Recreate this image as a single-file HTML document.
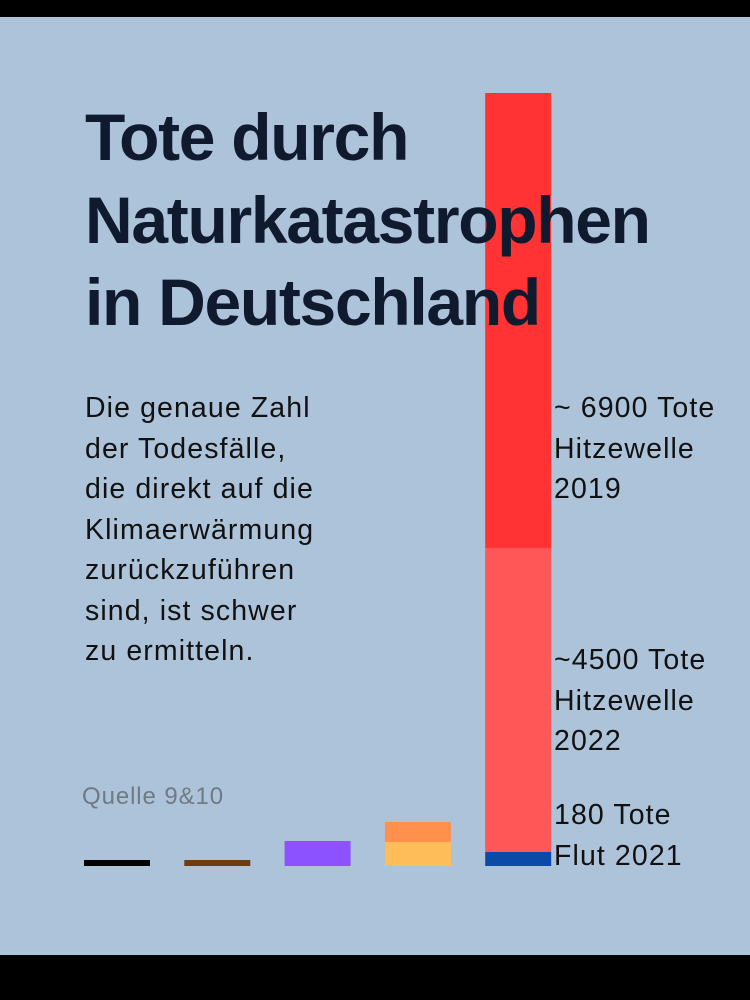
<!DOCTYPE html>
<html><head><meta charset="utf-8"><style>
body{margin:0;width:750px;height:1000px;background:#adc3d9;position:relative;overflow:hidden;font-family:"Liberation Sans",sans-serif}
.blk{position:absolute;left:0;width:750px;background:#000}
#title{position:absolute;left:85px;top:96px;font-size:66px;font-weight:bold;color:#0f1a2e;line-height:82.5px;letter-spacing:-1.3px;z-index:2;margin:0;white-space:nowrap}
#desc{position:absolute;left:85px;top:388px;font-size:28.5px;line-height:40.5px;letter-spacing:1.1px;color:#111;white-space:nowrap}
.lbl{position:absolute;left:554px;font-size:28.5px;line-height:40.5px;letter-spacing:1.1px;color:#111;white-space:nowrap}
#src{position:absolute;left:82px;top:783px;font-size:24px;letter-spacing:0.9px;color:#6f7a85}
svg{position:absolute;left:0;top:0;z-index:1}
</style></head><body>
<div class="blk" style="top:0;height:17px"></div>
<div class="blk" style="top:955px;height:45px"></div>
<svg id="chart" width="750" height="1000"></svg>
<h1 id="title">Tote durch<br>Naturkatastrophen<br>in Deutschland</h1>
<div id="desc">Die genaue Zahl<br>der Todesfälle,<br>die direkt auf die<br>Klimaerwärmung<br>zurückzuführen<br>sind, ist schwer<br>zu ermitteln.</div>
<div class="lbl" style="top:388px">~ 6900 Tote<br>Hitzewelle<br>2019</div>
<div class="lbl" style="top:640px">~4500 Tote<br>Hitzewelle<br>2022</div>
<div class="lbl" style="top:795px">180 Tote<br>Flut 2021</div>
<div id="src">Quelle 9&amp;10</div>
<script>
const categories=["a","b","c","d","e"];
const seg1=[91,91,379,364,212];
const seg2=[0,0,0,303,4606];
const seg3=[0,0,0,0,6893];
const colors1=["#000000","#6b3d0f","#8c52ff","#ffbd59","#0d4aa8"];
const colors2=["#000","#000","#000","#ff914d","#ff5757"];
const colors3=["#000","#000","#000","#000","#ff3333"];
const base=866, scale=15.15;
const y=v=>base-v/scale;
const x=i=>84+i*100.3;
const svg=document.getElementById('chart');
function rect(i,lo,v,c,nm){
  if(v<=0)return;
  const r=document.createElementNS('http://www.w3.org/2000/svg','rect');
  r.setAttribute('x',x(i));r.setAttribute('width',66);
  r.setAttribute('y',y(lo+v));r.setAttribute('height',v/scale);
  r.setAttribute('fill',c);
  
  
  svg.appendChild(r);
}
categories.forEach((c,i)=>{
  rect(i,0,seg1[i],colors1[i],'bar-'+c+'-seg1');
  rect(i,seg1[i],seg2[i],colors2[i],'bar-'+c+'-seg2');
  rect(i,seg1[i]+seg2[i],seg3[i],colors3[i],'bar-'+c+'-seg3');
});
</script>
</body></html>
